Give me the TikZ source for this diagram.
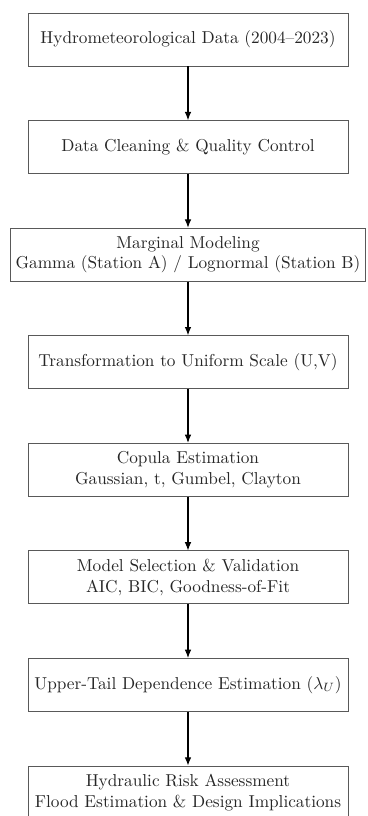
\documentclass[tikz,border=0pt]{standalone}
\usetikzlibrary{arrows.meta}
\begin{document}
\begin{tikzpicture}[x=0.5797pt,y=-0.5797pt,
  stepbox/.style={draw=black!65,line width=0.5pt,rectangle,align=center,
    minimum width=185.5pt,minimum height=30.7pt,inner sep=3pt,font=\normalsize,text=black!85},
  flowarrow/.style={draw=black,line width=0.6pt,-{Latex[length=4.8pt,width=3.8pt]}}]
\useasboundingbox (0,0) rectangle (368,816);
\node[stepbox] (b1) at (188,39.5) {Hydrometeorological Data (2004--2023)};
\node[stepbox] (b2) at (188,147.1) {Data Cleaning \& Quality Control};
\node[stepbox] (b3) at (188,254.6) {Marginal Modeling\\Gamma (Station A) / Lognormal (Station B)};
\node[stepbox] (b4) at (188,362.2) {Transformation to Uniform Scale (U,V)};
\node[stepbox] (b5) at (188,469.8) {Copula Estimation\\Gaussian, t, Gumbel, Clayton};
\node[stepbox] (b6) at (188,577.4) {Model Selection \& Validation\\AIC, BIC, Goodness-of-Fit};
\node[stepbox] (b7) at (188,684.9) {Upper-Tail Dependence Estimation ($\lambda_U$)};
\node[stepbox] (b8) at (188,792.5) {Hydraulic Risk Assessment\\Flood Estimation \& Design Implications};
\draw[flowarrow] (b1) -- (b2);
\draw[flowarrow] (b2) -- (b3);
\draw[flowarrow] (b3) -- (b4);
\draw[flowarrow] (b4) -- (b5);
\draw[flowarrow] (b5) -- (b6);
\draw[flowarrow] (b6) -- (b7);
\draw[flowarrow] (b7) -- (b8);
\end{tikzpicture}
\end{document}
